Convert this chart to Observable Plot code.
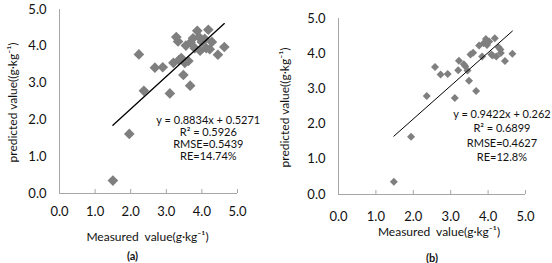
<!DOCTYPE html>
<html><head><meta charset="utf-8">
<script src="https://cdn.jsdelivr.net/npm/d3@7"></script>
<script src="https://cdn.jsdelivr.net/npm/@observablehq/plot@0.6"></script>
<style>
body{margin:0;background:#fff}
#c{display:flex;width:552px;height:263px;overflow:hidden}
svg text{white-space:pre}
</style>
</head><body><div id="c"></div>
<script>
const axisTicks = [0, 1, 2, 3, 4, 5];
const measuredA  = [1.50,1.96,2.23,2.37,2.68,2.90,3.10,3.20,3.28,3.33,3.35,3.42,3.48,3.52,3.55,3.62,3.67,3.68,3.75,3.80,3.87,3.92,3.95,4.00,4.08,4.12,4.18,4.22,4.28,4.45,4.63];
const predictedA = [0.35,1.62,3.78,2.79,3.42,3.43,2.72,3.55,4.25,4.13,3.62,3.68,3.22,3.55,4.02,3.60,2.93,4.10,4.22,3.95,4.42,4.25,3.88,4.12,4.20,3.95,4.45,3.92,4.12,3.77,3.98];
const measuredB  = [1.48,1.94,2.36,2.58,2.73,2.92,3.11,3.20,3.22,3.35,3.39,3.45,3.49,3.53,3.60,3.68,3.76,3.84,3.88,3.94,3.97,4.03,4.09,4.18,4.12,4.28,4.33,4.34,4.45,4.22,4.65];
const predictedB = [0.36,1.64,2.80,3.62,3.41,3.42,2.74,3.53,3.80,3.70,3.64,3.52,3.23,3.98,4.03,2.94,4.23,3.92,4.30,4.42,4.25,4.35,3.98,4.44,3.95,4.18,4.12,4.02,3.79,3.92,4.00];
const slopes = [0.8834, 0.9422];
const intercepts = [0.5271, 0.262];
const statsA = ["y = 0.8834x + 0.5271", "R\u00b2 = 0.5926", "RMSE=0.5439", "RE=14.74%"];
const statsB = ["y = 0.9422x + 0.262", "R\u00b2 = 0.6899", "RMSE=0.4627", "RE=12.8%"];
const xTitle = "Measured  value(g\u00b7kg\u207b\u00b9)";
const yTitle = "predicted value((g\u00b7kg\u207b\u00b9)";
const panelLabels = ["(a)", "(b)"];

const gray = "#7f7f7f";
const axisColor = "#a6a6a6";
const ink = "#111";

function panel(cfg) {
  const pts = cfg.mx.map((x, i) => ({x, y: cfg.py[i]}));
  const [x0, x1] = d3.extent(cfg.mx);
  const fit = [x0, x1].map(x => ({x, y: cfg.slope * x + cfg.intercept}));
  const frameH = 263 - cfg.mt - cfg.mb;
  return Plot.plot({
    width: 276, height: 263,
    marginLeft: cfg.ml, marginRight: cfg.mr, marginTop: cfg.mt, marginBottom: cfg.mb,
    style: {fontFamily: "Lato", color: ink, background: "#fff"},
    x: {domain: [0, 5]},
    y: {domain: [0, 5]},
    marks: [
      Plot.ruleY([0], {stroke: axisColor}),
      Plot.ruleX([0], {stroke: axisColor}),
      Plot.tickX(axisTicks.slice(1), {x: d => d, stroke: axisColor, insetTop: frameH - 4}),
      Plot.axisX({ticks: axisTicks, tickSize: 0, tickPadding: cfg.xpad, tickFormat: d3.format(".1f"), label: null, fontSize: 13}),
      Plot.axisY({ticks: axisTicks, tickSize: 0, tickPadding: 13, tickFormat: d3.format(".1f"), label: null, fontSize: 13}),
      Plot.dot(pts, {x: "x", y: "y", symbol: "diamond2", r: cfg.r, fill: gray}),
      Plot.line(fit, {x: "x", y: "y", stroke: "#000", strokeWidth: cfg.lw}),
      Plot.text([cfg.stats.join("\n")], {x: cfg.annX, y: cfg.annY, lineAnchor: "top", lineHeight: cfg.lh, fontSize: 11, fill: ink}),
      Plot.text([xTitle], {frameAnchor: "bottom", textAnchor: "middle", dy: cfg.xtDy, dx: cfg.xtDx, fontSize: 12, lineAnchor: "middle", fill: ink}),
      Plot.text([yTitle], {frameAnchor: "left", textAnchor: "middle", rotate: -90, dx: cfg.ytDx, dy: cfg.ytDy, fontSize: 12, lineAnchor: "middle", fill: ink}),
      Plot.text([cfg.label], {frameAnchor: "bottom", textAnchor: "middle", dy: cfg.lbDy, dx: cfg.lbDx, fontSize: 11, fontWeight: "bold", lineAnchor: "middle", fill: ink})
    ]
  });
}

const c = document.getElementById("c");
c.append(panel({
  mx: measuredA, py: predictedA, slope: slopes[0], intercept: intercepts[0], stats: statsA, label: panelLabels[0],
  ml: 59, mr: 39, mt: 9, mb: 70, r: 4.8, lw: 1.3, xpad: 13,
  annX: 4.18, annY: 2.12, lh: 1.1,
  xtDy: 44, xtDx: -1, ytDx: -46, ytDy: 1, lbDy: 63, lbDx: -16
}));
c.append(panel({
  mx: measuredB, py: predictedB, slope: slopes[1], intercept: intercepts[1], stats: statsB, label: panelLabels[1],
  ml: 62, mr: 27, mt: 18, mb: 69, r: 3.6, lw: 1, xpad: 17,
  annX: 4.37, annY: 2.48, lh: 1.32,
  xtDy: 38, xtDx: 7, ytDx: -53, ytDy: 1, lbDy: 64, lbDx: 0
}));
</script>
</body></html>
